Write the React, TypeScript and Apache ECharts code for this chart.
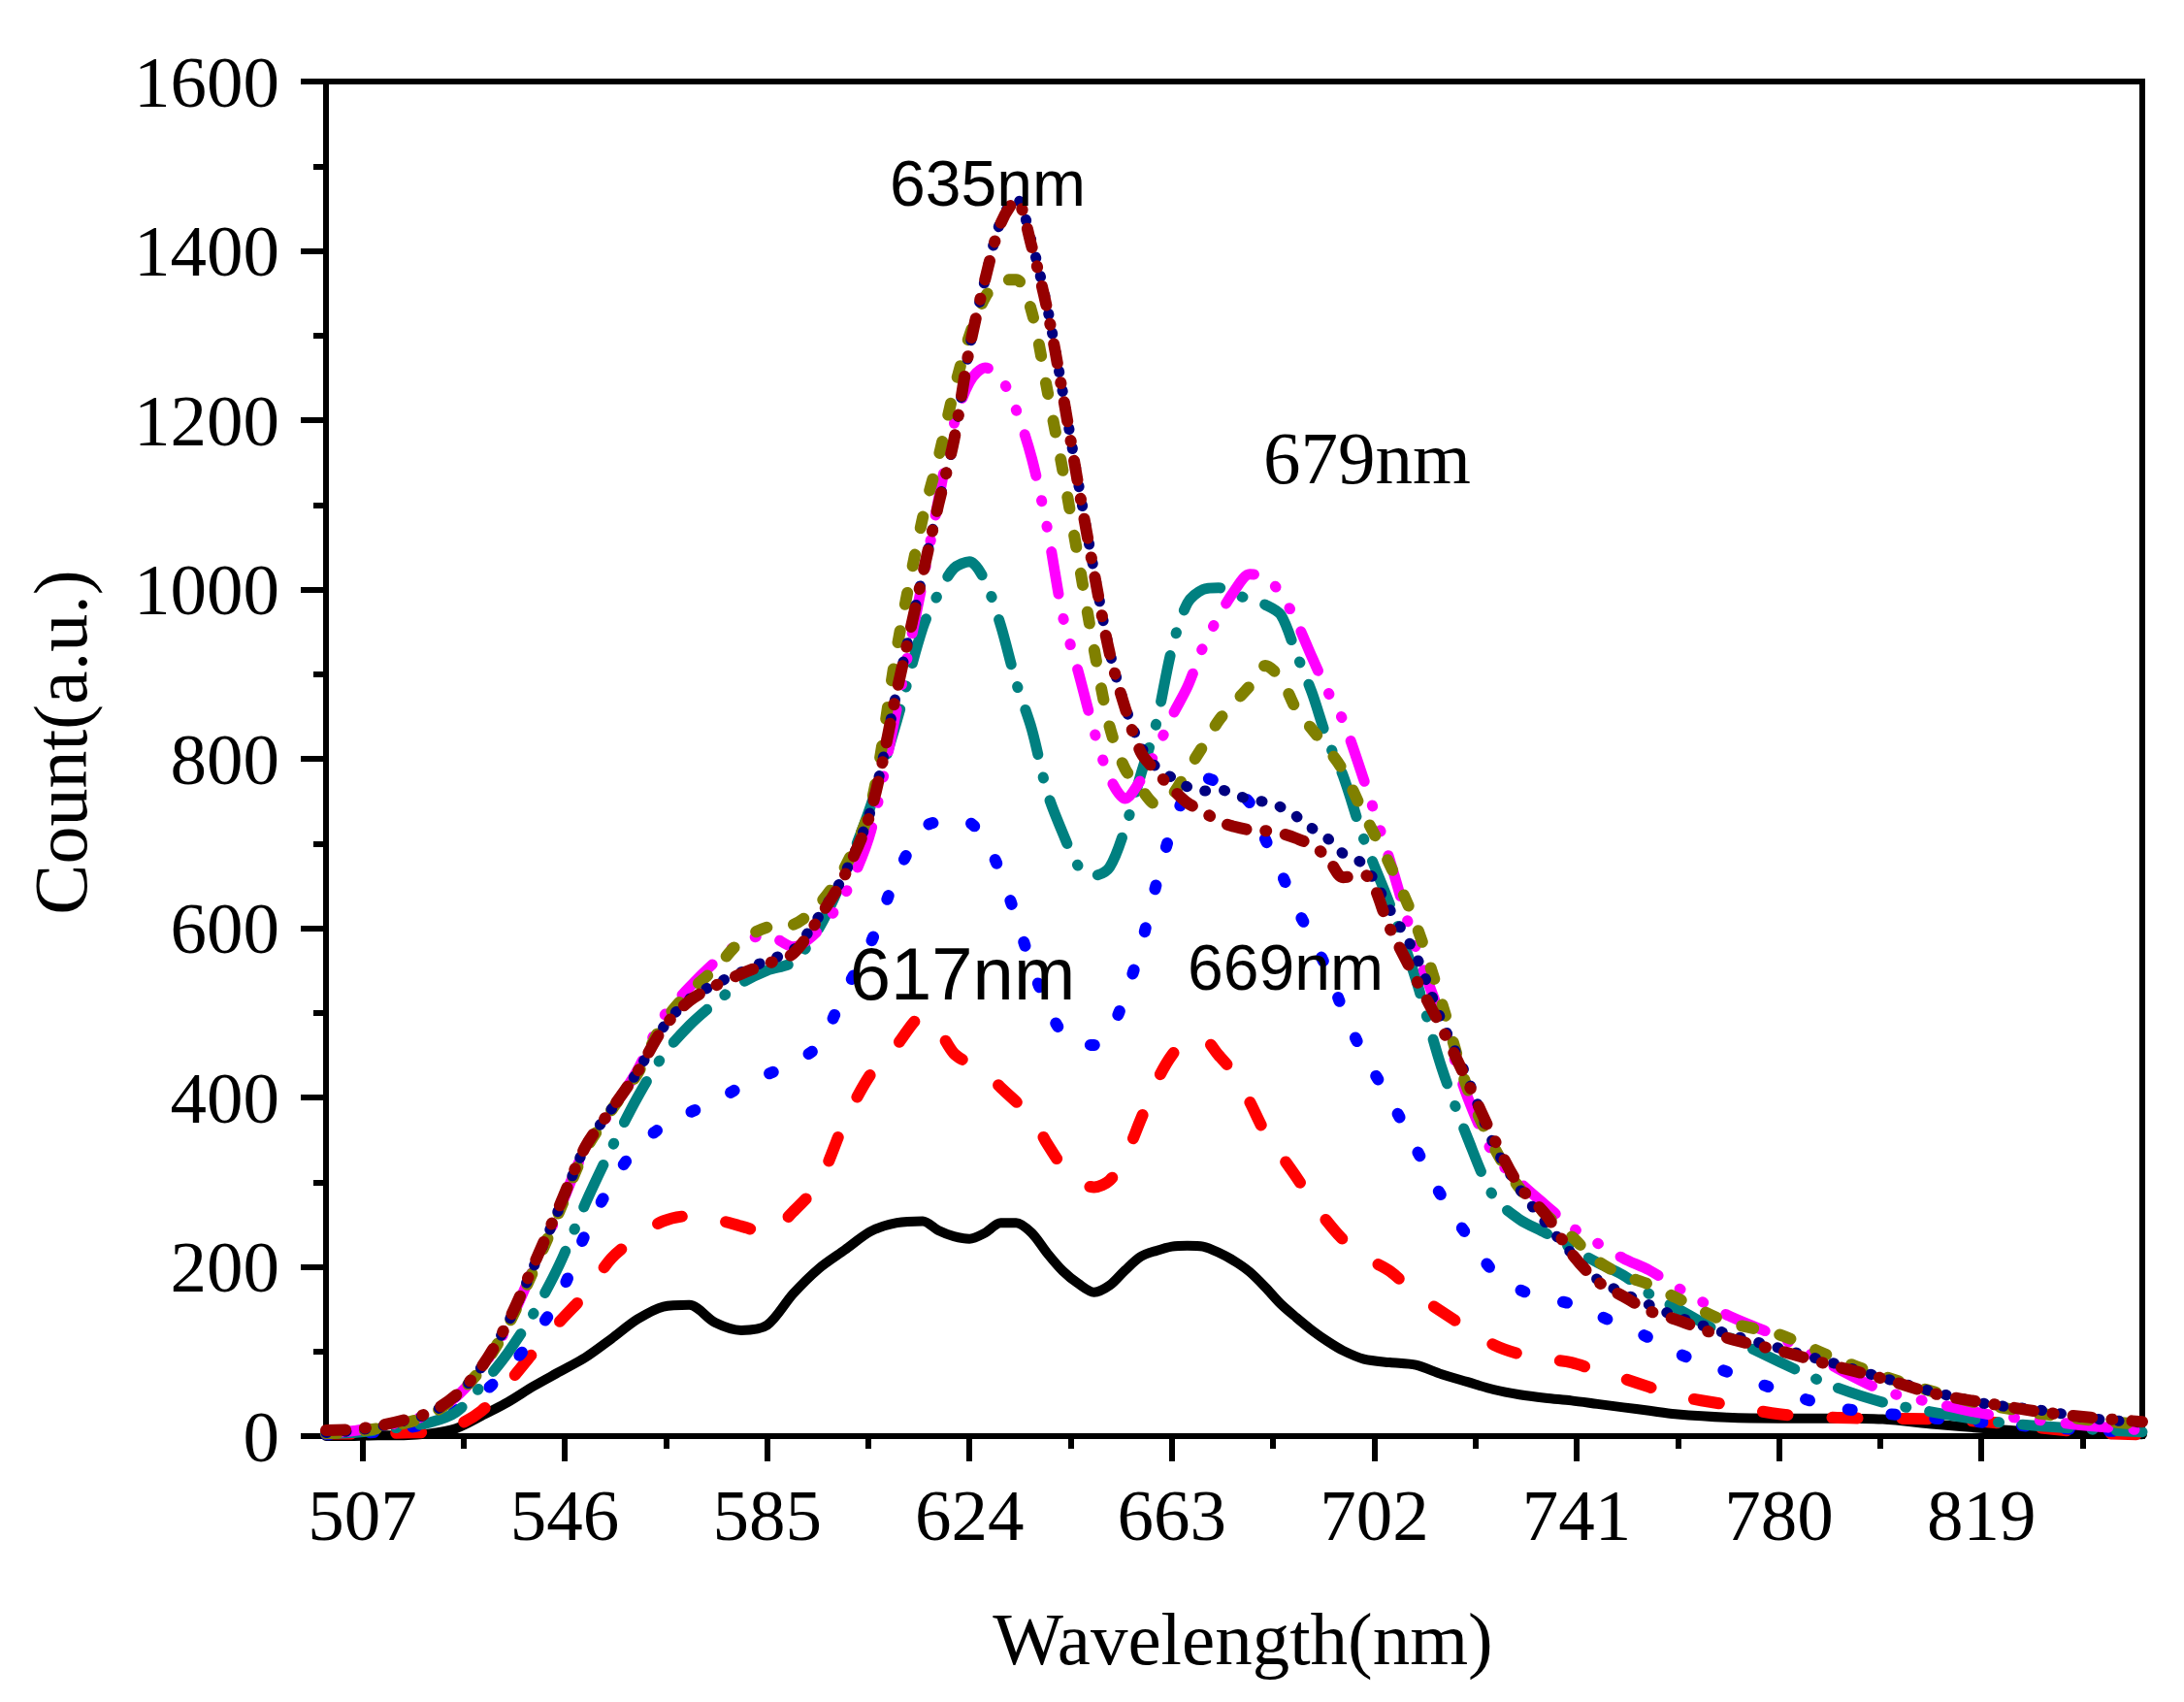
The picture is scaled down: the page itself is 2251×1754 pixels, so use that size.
import React, { useEffect, useRef } from "react";
import * as echarts from "echarts";

const wavelengths = [
  500, 505, 510, 515, 520, 525, 530, 535, 540, 545, 550, 555, 560, 565, 570, 575, 580, 585, 590, 595, 600, 605, 610, 615,
  618, 621, 624, 627, 630, 633, 636, 639, 642, 645, 648, 651, 654, 657, 660, 663, 666, 669, 672, 675, 678, 681, 684, 687, 690, 693, 696,
  700, 705, 710, 715, 720, 725, 730, 735, 740, 745, 750, 755, 760,
  770, 780, 790, 800, 810, 820, 830, 840, 850,
];

const blackSeries = [
  0, 0, 1, 1, 3, 9, 24, 40, 59, 76, 93, 115, 138, 153, 155, 134, 125, 131, 168, 198, 220, 242, 252, 254,
  243, 236, 233, 240, 252, 252, 240, 216, 195, 180, 170, 178, 196, 212, 219, 224, 225, 224, 217, 207, 194, 176, 156, 140, 125, 112, 101,
  91, 87, 84, 73, 64, 55, 49, 45, 42, 38, 34, 30, 26,
  22, 21, 21, 20, 14, 9, 5, 3, 2,
];

const redSeries = [
  3, 3, 3, 4, 5, 12, 30, 62, 99, 135, 168, 210, 235, 254, 260, 256, 248, 240, 265, 300, 372, 428, 462, 496,
  480, 452, 440, 430, 412, 395, 378, 345, 318, 300, 294, 302, 330, 374, 418, 450, 468, 469, 450, 428, 395, 358, 332, 306, 278, 253, 232,
  212, 195, 168, 147, 127, 108, 97, 91, 87, 77, 68, 58, 48,
  37, 26, 22, 21, 20, 17, 10, 4, 2,
];

const blueSeries = [
  2, 3, 5, 9, 16, 30, 50, 79, 117, 165, 239, 298, 342, 366, 382, 395, 413, 427, 441, 462, 525, 583, 663, 718,
  726, 728, 725, 705, 665, 612, 555, 508, 475, 463, 462, 477, 520, 578, 652, 718, 762, 778, 772, 763, 748, 705, 666, 624, 588, 550, 503,
  450, 398, 340, 283, 236, 194, 173, 163, 156, 143, 130, 116, 99,
  76, 54, 35, 27, 21, 16, 11, 7, 5,
];

const tealSeries = [
  3, 4, 7, 11, 16, 28, 60, 98, 145, 203, 275, 340, 400, 450, 485, 512, 535, 550, 560, 600, 665, 745, 845, 955,
  995, 1025, 1033, 1010, 958, 890, 835, 760, 712, 673, 662, 672, 718, 781, 842, 930, 984, 1000, 1002, 995, 988, 982, 970, 924, 878, 822, 780,
  705, 628, 540, 435, 352, 283, 256, 240, 222, 205, 190, 168, 152,
  118, 88, 60, 40, 28, 18, 12, 8, 5,
];

const magentaSeries = [
  4, 6, 11, 17, 26, 46, 80, 130, 198, 268, 340, 385, 432, 495, 530, 560, 583, 592, 578, 598, 640, 715, 860, 1010,
  1105, 1195, 1245, 1262, 1250, 1212, 1155, 1072, 968, 902, 833, 778, 753, 775, 810, 850, 885, 932, 968, 998, 1018, 1015, 995, 962, 920, 880, 845,
  775, 680, 577, 492, 400, 333, 300, 273, 247, 228, 210, 196, 177,
  143, 117, 84, 54, 39, 26, 19, 12, 7,
];

const oliveSeries = [
  3, 5, 9, 15, 25, 47, 80, 130, 196, 266, 338, 385, 428, 488, 525, 552, 585, 601, 604, 628, 672, 745, 930, 1085,
  1155, 1235, 1300, 1345, 1365, 1366, 1328, 1235, 1140, 1035, 930, 838, 788, 765, 746, 757, 786, 815, 845, 866, 886, 910, 895, 858, 835, 812, 786,
  735, 675, 605, 512, 410, 342, 293, 262, 236, 207, 190, 179, 164,
  135, 120, 94, 71, 52, 37, 27, 19, 14,
];

const navySeries = [
  4, 6, 11, 18, 27, 47, 82, 133, 200, 270, 342, 386, 430, 483, 516, 534, 548, 562, 574, 614, 665, 740, 880, 1018,
  1100, 1176, 1285, 1366, 1435, 1462, 1410, 1333, 1232, 1125, 1022, 927, 862, 815, 790, 778, 767, 762, 764, 758, 752, 749, 743, 732, 718, 706, 688,
  675, 622, 568, 490, 422, 345, 292, 252, 216, 185, 169, 155, 142,
  121, 104, 87, 69, 52, 38, 31, 21, 16,
];

const darkRedSeries = [
  7, 8, 12, 19, 28, 48, 82, 134, 202, 272, 342, 386, 430, 482, 514, 532, 546, 558, 570, 612, 663, 738, 880, 1018,
  1100, 1176, 1285, 1366, 1432, 1460, 1405, 1330, 1230, 1122, 1020, 925, 860, 808, 785, 765, 748, 738, 726, 720, 716, 715, 712, 706, 698, 683, 660,
  663, 600, 540, 482, 418, 352, 295, 262, 216, 183, 165, 148, 138,
  116, 101, 84, 68, 50, 39, 29, 22, 17,
];

const xTickValues = [507, 546, 585, 624, 663, 702, 741, 780, 819];
const xMinorTickValues = [526.5, 565.5, 604.5, 643.5, 682.5, 721.5, 760.5, 799.5, 838.5];

const annotations = [
  { text: "635nm", x: 1018, y: 189, size: 66, serif: false },
  { text: "617nm", x: 992, y: 1003, size: 76, serif: false },
  { text: "669nm", x: 1325, y: 997, size: 66, serif: false },
  { text: "679nm", x: 1409, y: 472, size: 77, serif: true },
];

const SERIF = '"Liberation Serif", "Times New Roman", Times, serif';
const SANS = '"Liberation Sans", Arial, Helvetica, sans-serif';

const seriesDefs = [
  { name: "s1", data: blackSeries, color: "#000000", width: 10, dash: "solid" as any },
  { name: "s2", data: redSeries, color: "#FF0000", width: 12, dash: [26, 46] },
  { name: "s3", data: blueSeries, color: "#0000FF", width: 12, dash: [4, 41] },
  { name: "s4", data: tealSeries, color: "#008080", width: 11, dash: [48, 24, 1, 24] },
  { name: "s5", data: magentaSeries, color: "#FF00FF", width: 11, dash: [44, 26, 1, 26, 1, 26] },
  { name: "s6", data: oliveSeries, color: "#808000", width: 12, dash: [12, 28] },
  { name: "s7", data: navySeries, color: "#000080", width: 11, dash: [1, 19] },
  { name: "s8", data: darkRedSeries, color: "#960000", width: 12, dash: [20, 20, 1, 20] },
];

export default function App() {
  const ref = useRef<HTMLDivElement>(null);

  useEffect(() => {
    document.body.style.margin = "0";
    const chart = echarts.init(ref.current as HTMLDivElement, null, { renderer: "svg" });

    const axisLineStyle = { color: "#000", width: 6 };

    const option: any = {
      animation: false,
      backgroundColor: "#ffffff",
      grid: {
        left: 336,
        right: 43,
        top: 84,
        bottom: 274,
        show: true,
        borderColor: "#000",
        borderWidth: 6,
        backgroundColor: "transparent",
        containLabel: false,
        outerBoundsMode: "none",
      },
      xAxis: [
        {
          type: "value",
          min: 500,
          max: 850,
          position: "bottom",
          axisLine: { show: true, onZero: false, lineStyle: axisLineStyle },
          axisTick: { show: true, inside: false, length: 26, customValues: xTickValues, lineStyle: axisLineStyle },
          axisLabel: {
            show: true,
            customValues: xTickValues,
            margin: 44,
            fontSize: 75,
            fontFamily: SERIF,
            color: "#000",
            formatter: (v: number) => String(v),
          },
          splitLine: { show: false },
        },
        {
          type: "value",
          min: 500,
          max: 850,
          position: "bottom",
          axisLine: { show: false },
          axisTick: { show: true, inside: false, length: 13, customValues: xMinorTickValues, lineStyle: axisLineStyle },
          axisLabel: { show: false },
          splitLine: { show: false },
        },
      ],
      yAxis: [
        {
          type: "value",
          min: 0,
          max: 1600,
          interval: 200,
          position: "left",
          axisLine: { show: true, onZero: false, lineStyle: axisLineStyle },
          axisTick: { show: true, inside: false, length: 26, lineStyle: axisLineStyle },
          minorTick: { show: true, splitNumber: 2, length: 13, lineStyle: axisLineStyle },
          axisLabel: {
            show: true,
            margin: 48,
            fontSize: 75,
            fontFamily: SERIF,
            color: "#000",
            formatter: (v: number) => String(v),
          },
          splitLine: { show: false },
          minorSplitLine: { show: false },
        },
      ],
      series: seriesDefs.map((s) => ({
        name: s.name,
        type: "line",
        xAxisIndex: 0,
        yAxisIndex: 0,
        data: wavelengths.map((w, i) => [w, s.data[i]]),
        showSymbol: false,
        smooth: 0.3,
        lineStyle: { color: s.color, width: s.width, type: s.dash, cap: "round", join: "round" },
        emphasis: { disabled: true },
      })),
      graphic: [
        ...annotations.map((a) => ({
          type: "text",
          x: a.x,
          y: a.y,
          z: 100,
          style: {
            text: a.text,
            fontSize: a.size,
            fontFamily: a.serif ? SERIF : SANS,
            fill: "#000",
            align: "center",
            verticalAlign: "middle",
          },
        })),
        {
          type: "text",
          x: 1281,
          y: 1689,
          z: 100,
          style: {
            text: "Wavelength(nm)",
            fontSize: 77,
            fontFamily: SERIF,
            fill: "#000",
            align: "center",
            verticalAlign: "middle",
          },
        },
        {
          type: "text",
          x: 62,
          y: 765,
          rotation: Math.PI / 2,
          z: 100,
          style: {
            text: "Count(a.u.)",
            fontSize: 78,
            fontFamily: SERIF,
            fill: "#000",
            align: "center",
            verticalAlign: "middle",
          },
        },
      ],
    };

    chart.setOption(option);
    return () => chart.dispose();
  }, []);

  return (
    <div
      ref={ref}
      style={{ position: "absolute", left: 0, top: 0, width: 2251, height: 1754, background: "#ffffff" }}
    />
  );
}
